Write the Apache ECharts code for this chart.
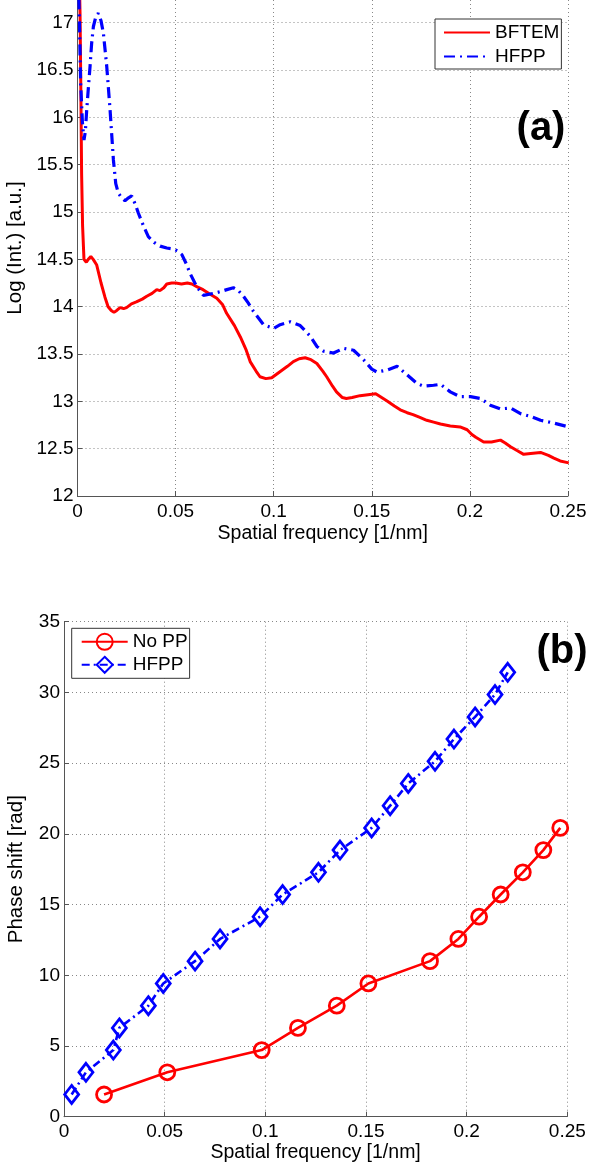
<!DOCTYPE html>
<html><head><meta charset="utf-8">
<script src="https://cdn.jsdelivr.net/npm/echarts@6/dist/echarts.min.js"></script>
<style>html,body{margin:0;padding:0;background:#fff}#c{width:590px;height:1165px}</style>
</head><body><div id="c"></div>
<script>
// ---- Panel (a): log intensity vs spatial frequency ----
const bftemX = [0.0008,0.0013,0.0017,0.0021,0.0026,0.0033,0.0045,0.0055,0.0068,0.0080,0.0098,0.0120,0.0140,0.0156,0.0172,0.0186,0.0200,0.0217,0.0235,0.0250,0.0275,0.0300,0.0330,0.0353,0.0380,0.0404,0.0420,0.0440,0.0455,0.0480,0.0500,0.0530,0.0560,0.0583,0.0610,0.0640,0.0670,0.0710,0.0740,0.0760,0.0800,0.0830,0.0860,0.0880,0.0910,0.0930,0.0960,0.0990,0.1030,0.1070,0.1100,0.1130,0.1160,0.1190,0.1220,0.1250,0.1270,0.1300,0.1320,0.1350,0.1370,0.1400,0.1440,0.1480,0.1520,0.1550,0.1580,0.1615,0.1645,0.1680,0.1710,0.1745,0.1780,0.1815,0.1850,0.1900,0.1950,0.1986,0.2010,0.2030,0.2070,0.2110,0.2156,0.2180,0.2207,0.2240,0.2274,0.2310,0.2360,0.2400,0.2428,0.2460,0.2504];
const bftemY = [17.6,17.1,16.3,15.4,14.85,14.5,14.47,14.5,14.53,14.5,14.44,14.25,14.1,14.0,13.96,13.94,13.96,13.99,13.98,13.99,14.03,14.05,14.08,14.11,14.14,14.18,14.17,14.2,14.24,14.25,14.25,14.24,14.25,14.24,14.21,14.18,14.14,14.09,14.02,13.93,13.8,13.68,13.54,13.42,13.32,13.26,13.24,13.25,13.31,13.37,13.42,13.45,13.46,13.44,13.4,13.32,13.26,13.16,13.1,13.04,13.03,13.04,13.06,13.07,13.08,13.04,13.0,12.95,12.91,12.88,12.86,12.83,12.8,12.78,12.76,12.74,12.73,12.7,12.65,12.62,12.57,12.57,12.59,12.56,12.52,12.48,12.44,12.45,12.46,12.43,12.4,12.37,12.35];
const hfppAX = [0.0004,0.0010,0.0016,0.0025,0.0033,0.0040,0.0047,0.0055,0.0064,0.0072,0.0081,0.0093,0.0106,0.0120,0.0132,0.0149,0.0166,0.0175,0.0183,0.0195,0.0208,0.0225,0.0242,0.0260,0.0276,0.0295,0.0310,0.0335,0.0361,0.0390,0.0421,0.0455,0.0489,0.0510,0.0532,0.0555,0.0574,0.0608,0.0642,0.0693,0.0730,0.0761,0.0795,0.0820,0.0846,0.0870,0.0897,0.0948,0.0999,0.1033,0.1084,0.1135,0.1186,0.1220,0.1254,0.1305,0.1356,0.1407,0.1458,0.1500,0.1526,0.1578,0.1629,0.1680,0.1730,0.1764,0.1815,0.1850,0.1900,0.1950,0.2003,0.2054,0.2104,0.2156,0.2207,0.2258,0.2310,0.2360,0.2428,0.2504];
const hfppAY = [17.5,17.0,16.36,15.95,15.76,15.85,16.08,16.3,16.54,16.78,16.96,17.06,17.1,17.02,16.89,16.54,16.08,15.8,15.55,15.3,15.2,15.15,15.12,15.15,15.17,15.08,14.99,14.86,14.74,14.68,14.64,14.62,14.61,14.59,14.55,14.45,14.35,14.21,14.12,14.14,14.16,14.18,14.2,14.17,14.11,14.04,13.95,13.81,13.77,13.81,13.84,13.8,13.69,13.58,13.53,13.51,13.56,13.54,13.44,13.34,13.31,13.33,13.37,13.28,13.19,13.16,13.17,13.18,13.1,13.05,13.05,13.03,12.96,12.92,12.93,12.87,12.84,12.8,12.77,12.73];
// ---- Panel (b): phase shift vs spatial frequency ----
const noppX = [0.0199,0.0513,0.0982,0.1162,0.1355,0.1512,0.1818,0.1959,0.2062,0.2169,0.2279,0.2381,0.2465];
const noppY = [1.57,3.14,4.71,6.28,7.85,9.42,11.00,12.57,14.14,15.71,17.28,18.85,20.42];
const hfppBX = [0.0038,0.0109,0.0245,0.0275,0.0419,0.0493,0.0651,0.0775,0.0974,0.1086,0.1264,0.1371,0.1528,0.1620,0.1710,0.1843,0.1937,0.2042,0.2141,0.2204];
const hfppBY = [1.57,3.14,4.71,6.28,7.85,9.42,11.00,12.57,14.14,15.71,17.28,18.85,20.42,21.99,23.56,25.13,26.70,28.27,29.85,31.42];
const xTitle = 'Spatial frequency [1/nm]';

const zip = (a, b) => a.map((v, i) => [v, b[i]]);
const FONT = "'Liberation Sans', Arial, sans-serif";
const AX = '#555';
const dashDot = [11, 5, 2, 5];

function xAxis(gridIndex, gap) {
  return {
    type: 'value', gridIndex, min: 0, max: 0.25, interval: 0.05,
    name: xTitle, nameLocation: 'middle', nameGap: gap,
    nameTextStyle: {fontSize: 19.5, color: '#000', fontFamily: FONT},
    axisLine: {show: true, lineStyle: {color: AX, width: 1}},
    axisTick: {show: true, inside: true, length: 5, lineStyle: {color: AX}},
    axisLabel: {fontSize: 19, color: '#000', fontFamily: FONT, margin: 6},
    splitLine: {show: true, lineStyle: {type: [1, 3], color: '#888', width: 1}}
  };
}
function yAxis(gridIndex, min, max, interval, name, gap) {
  const onTick = max % interval === 0;
  return {
    type: 'value', gridIndex, min, max, interval,
    name, nameLocation: 'middle', nameGap: gap,
    nameTextStyle: {fontSize: 20.5, color: '#000', fontFamily: FONT},
    axisLine: {show: true, lineStyle: {color: AX, width: 1}},
    axisTick: {show: true, inside: true, length: 5, lineStyle: {color: AX}},
    axisLabel: {fontSize: 19, color: '#000', fontFamily: FONT, margin: 4, showMaxLabel: onTick},
    splitLine: {show: true, showMaxLine: onTick, lineStyle: {type: [1, 3], color: '#888', width: 1}}
  };
}

const chart = echarts.init(document.getElementById('c'), null, {renderer: 'canvas'});
chart.setOption({
  backgroundColor: '#fff',
  animation: false,
  grid: [
    {left: 77.5, top: 0, width: 490.5, height: 496, outerBoundsMode: 'none', containLabel: false},
    {left: 64, top: 621.7, width: 503.3, height: 495, outerBoundsMode: 'none', containLabel: false}
  ],
  xAxis: [xAxis(0, 28), xAxis(1, 20)],
  yAxis: [
    yAxis(0, 12, 17.24, 0.5, 'Log (Int.) [a.u.]', 50),
    yAxis(1, 0, 35, 5, 'Phase shift [rad]', 37)
  ],
  legend: [
    {
      data: ['BFTEM', 'HFPP'], orient: 'vertical', left: 435, top: 19,
      itemWidth: 46, itemHeight: 20, itemGap: 5, padding: [4, 2, 3, 8],
      borderColor: '#333', borderWidth: 1, backgroundColor: '#fff',
      textStyle: {fontSize: 19, color: '#000', fontFamily: FONT},
      itemStyle: {opacity: 0}, selectedMode: false
    },
    {
      data: ['No PP', 'HFPP (b)'], orient: 'vertical', left: 71.7, top: 628.3,
      itemWidth: 46, itemHeight: 20, itemGap: 4, padding: [4, 2, 4, 9],
      borderColor: '#333', borderWidth: 1, backgroundColor: '#fff',
      textStyle: {fontSize: 19, color: '#000', fontFamily: FONT},
      formatter: n => n.replace(' (b)', ''), selectedMode: false
    }
  ],
  series: [
    {name: 'BFTEM', type: 'line', xAxisIndex: 0, yAxisIndex: 0, data: zip(bftemX, bftemY),
     symbol: 'none', clip: true, itemStyle: {color: '#ff0000'}, lineStyle: {color: '#ff0000', width: 3}},
    {name: 'HFPP', type: 'line', xAxisIndex: 0, yAxisIndex: 0, data: zip(hfppAX, hfppAY),
     symbol: 'none', clip: true, itemStyle: {color: '#0000ff'}, lineStyle: {color: '#0000ff', width: 3.2, type: dashDot}},
    {name: 'No PP', type: 'line', xAxisIndex: 1, yAxisIndex: 1, data: zip(noppX, noppY),
     symbol: 'circle', symbolSize: 15, showAllSymbol: true,
     itemStyle: {color: 'rgba(0,0,0,0)', borderColor: '#ff0000', borderWidth: 2.8},
     lineStyle: {color: '#ff0000', width: 2.6}},
    {name: 'HFPP (b)', type: 'line', xAxisIndex: 1, yAxisIndex: 1, data: zip(hfppBX, hfppBY),
     symbol: 'diamond', symbolSize: [14, 18], showAllSymbol: true,
     itemStyle: {color: 'rgba(0,0,0,0)', borderColor: '#0000ff', borderWidth: 2.8},
     lineStyle: {color: '#0000ff', width: 2.6, type: [8, 4, 2, 4]}}
  ],
  graphic: [
    {type: 'text', x: 541, y: 129, z: 100,
     style: {text: '(a)', fontSize: 40, fontWeight: 'bold', fontFamily: FONT, fill: '#000', align: 'center', verticalAlign: 'middle'}},
    {type: 'text', x: 562, y: 652, z: 100,
     style: {text: '(b)', fontSize: 40, fontWeight: 'bold', fontFamily: FONT, fill: '#000', align: 'center', verticalAlign: 'middle'}}
  ]
});
</script>
</body></html>
